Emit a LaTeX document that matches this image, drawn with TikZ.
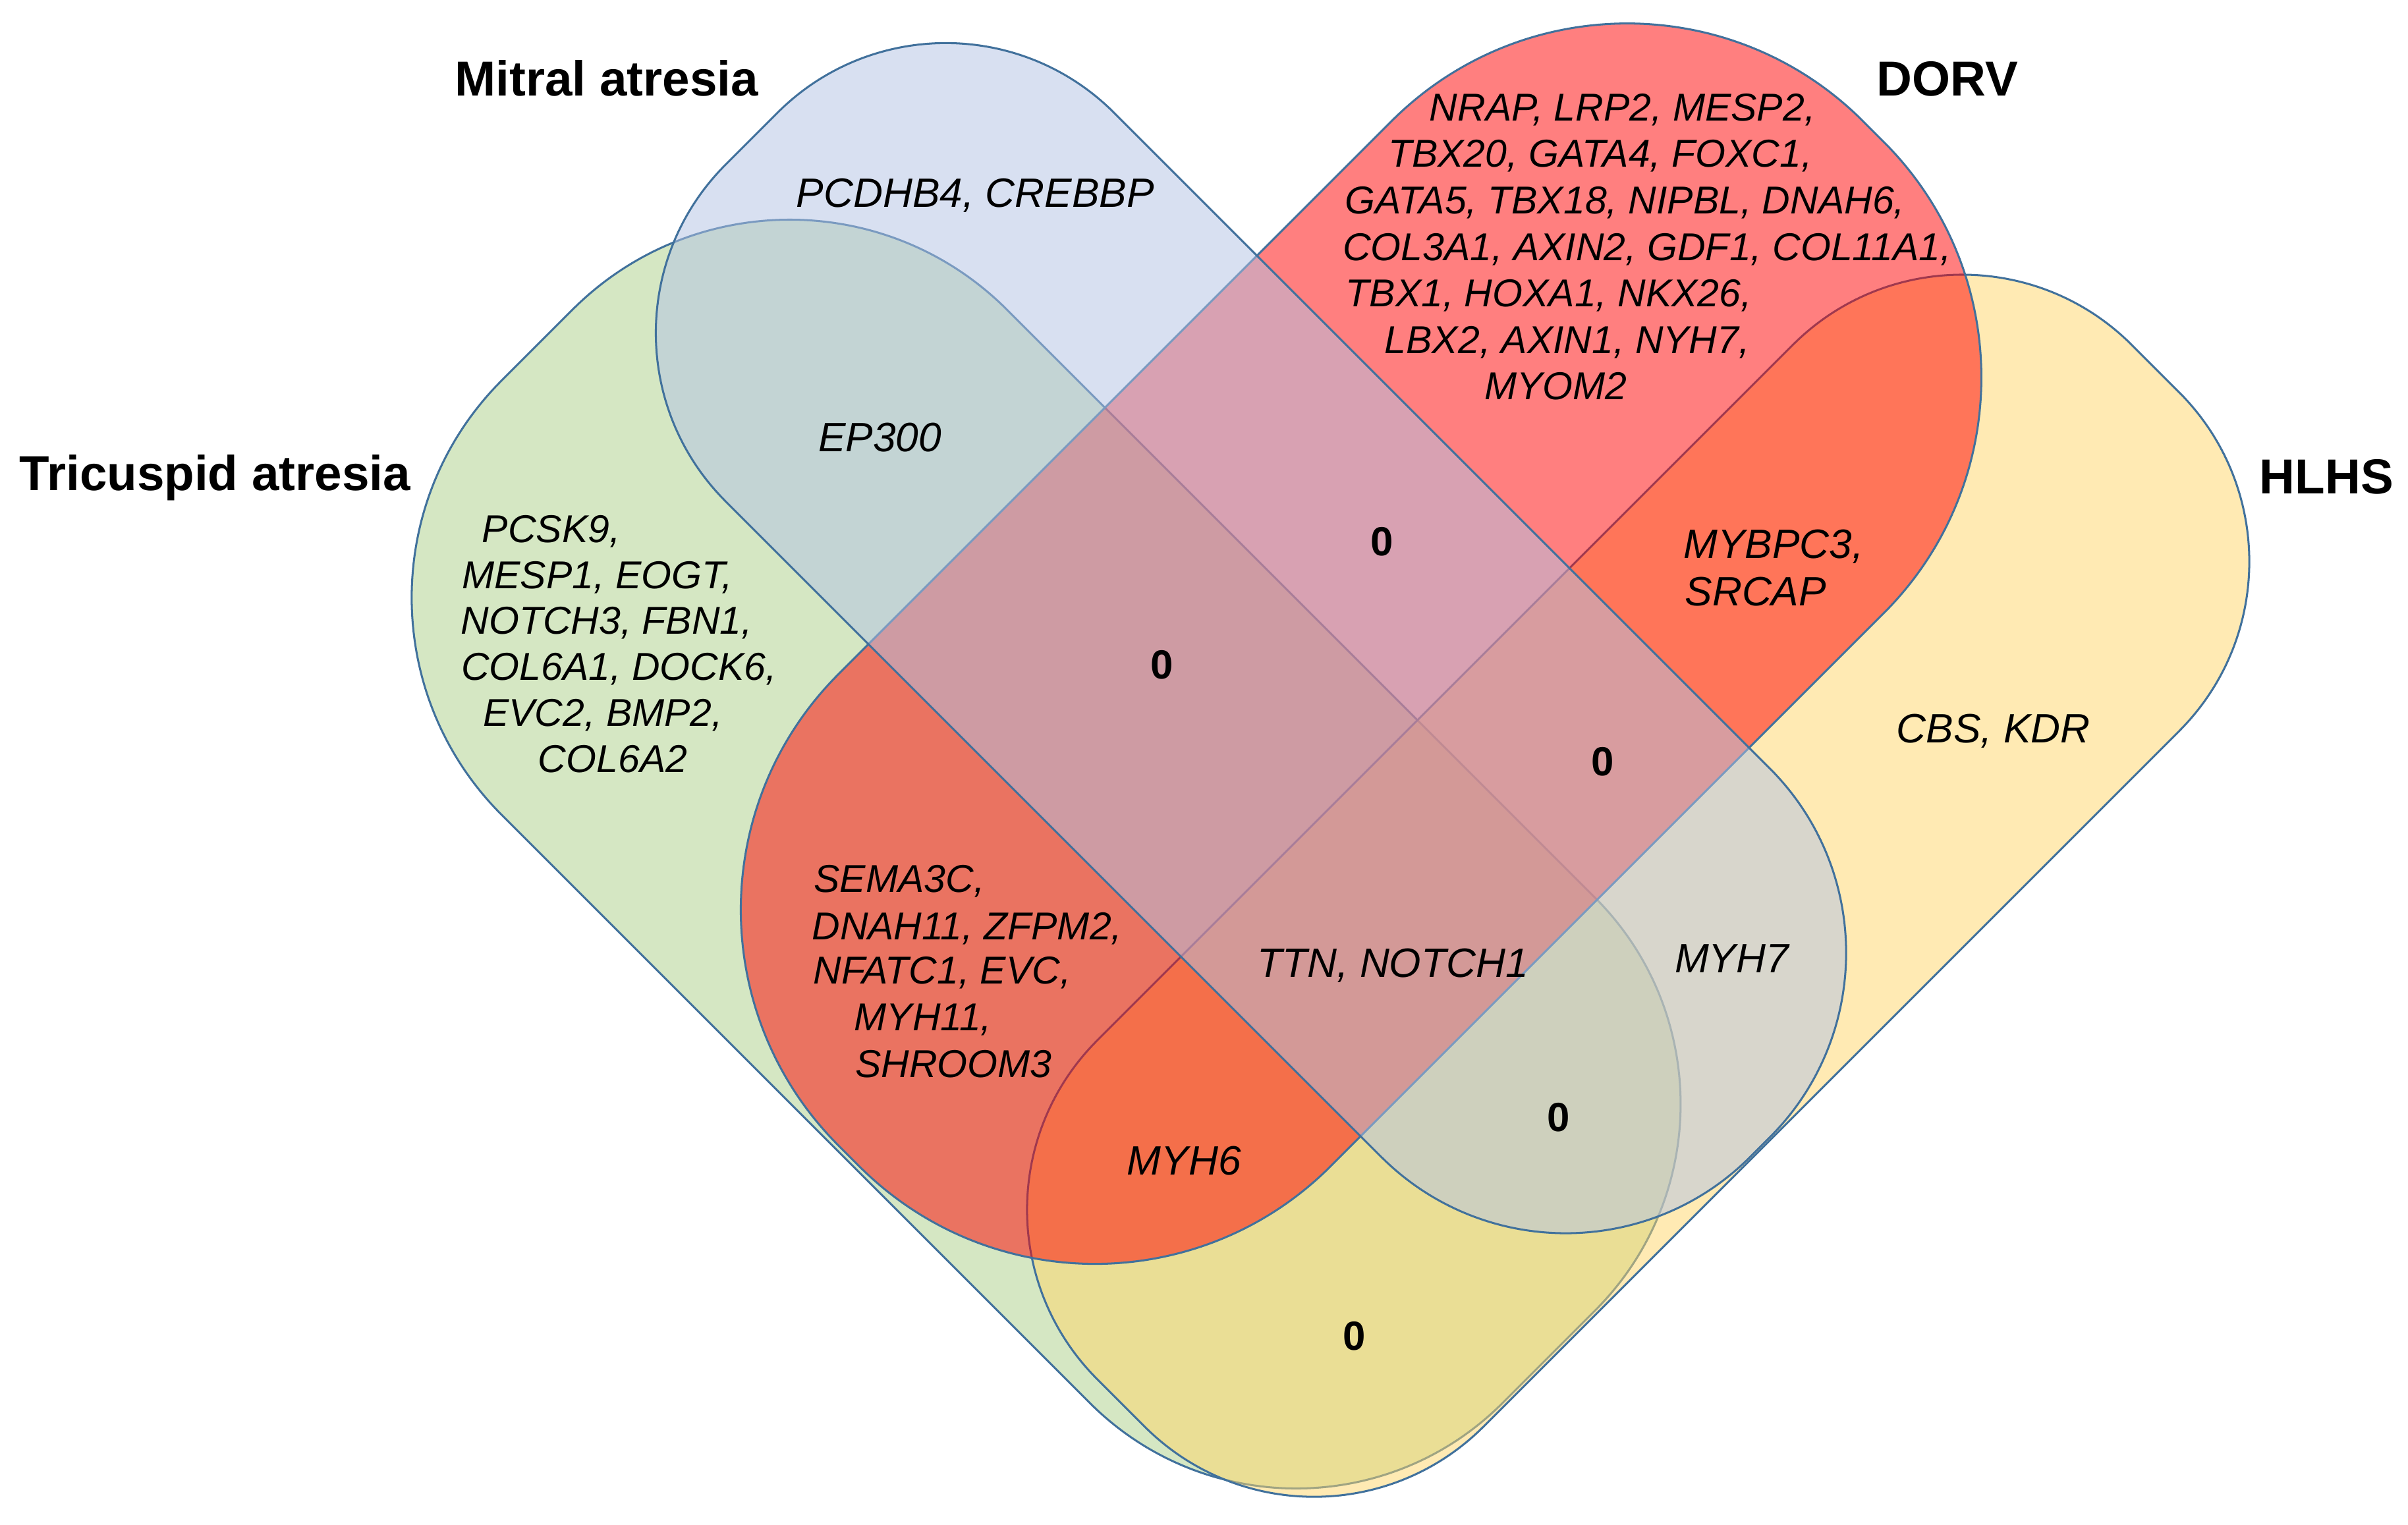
\documentclass[tikz,border=0pt]{standalone}
\usepackage{fontspec}
\setmainfont{Liberation Sans}
\definecolor{outl}{RGB}{65,113,156}
\definecolor{gbase}{RGB}{173,209,137}
\definecolor{ybase}{RGB}{255,215,105}
\definecolor{rbase}{RGB}{255,1,1}
\definecolor{bbase}{RGB}{179,195,229}
% rounded bar in a rotated frame:
% #1 style, #2 rotation, #3 s-start, #4 s-end, #5 t-min, #6 t-max, #7 radius at start, #8 radius at end
\newcommand\roundbar[8]{%
  \path[#1, rotate=#2] (#3+#7, #5) -- (#4-#8, #5)
    arc[start angle=-90, end angle=0, radius=#8] -- (#4, #6-#8)
    arc[start angle=0, end angle=90, radius=#8] -- (#3+#7, #6)
    arc[start angle=90, end angle=180, radius=#7] -- (#3, #5+#7)
    arc[start angle=180, end angle=270, radius=#7] -- cycle;}
\begin{document}
\begin{tikzpicture}[x=1pt,y=1pt,
  setshape/.style={draw=outl, line width=1.3pt, fill opacity=0.5},
  gene/.style={font=\fontsize{25.3}{30}\selectfont\itshape, anchor=base, inner sep=0pt},
  genebig/.style={font=\fontsize{26.7}{30}\selectfont\itshape, anchor=base, inner sep=0pt},
  genebigw/.style={genebig, anchor=base west},
  settitle/.style={font=\fontsize{32}{36}\selectfont\bfseries, anchor=base, inner sep=0pt},
  zero/.style={font=\fontsize{26.5}{30}\selectfont\bfseries, anchor=center, inner sep=0pt}]
\useasboundingbox (0,0) rectangle (1568,-993);
\fill[white] (0,0) rectangle (1568,-993);
% sets, painted in this order: Tricuspid (green), HLHS (yellow), DORV (red), Mitral (blue)
\roundbar{setshape, fill=gbase}{-45}{406.2}{1337.9}{-144.25}{321.03}{200}{190}
\roundbar{setshape, fill=ybase}{45}{-129.9}{822.7}{-1340.0}{-984.3}{156}{156}
\roundbar{setshape, fill=rbase}{45}{-141.42}{802.0}{-1149.7}{-696.5}{217}{217}
\roundbar{setshape, fill=bbase}{-45}{409.9}{1338.6}{103.24}{461.03}{155}{170}
% titles
\node[settitle] (tmitral) at (395,-62.5) {Mitral atresia};
\node[settitle] (tdorv) at (1268,-62.5) {DORV};
\node[settitle] (ttri) at (140,-319.5) {Tricuspid atresia};
\node[settitle] (thlhs) at (1515,-321.5) {HLHS};
% Mitral only
\node[genebig] (gmitral) at (635,-135.1) {PCDHB4, CREBBP};
% Mitral & Tricuspid
\node[genebig] (gmt) at (573,-294.1) {EP300};
% Tricuspid only
\node[gene] (gt1) at (359,-353.1) {PCSK9,};
\node[gene] (gt2) at (389,-383.1) {MESP1, EOGT,};
\node[gene] (gt3) at (395,-413.1) {NOTCH3, FBN1,};
\node[gene] (gt4) at (403,-443.1) {COL6A1, DOCK6,};
\node[gene] (gt5) at (392.6,-473.1) {EVC2, BMP2,};
\node[gene] (gt6) at (399,-503.1) {COL6A2};
% DORV only
\node[gene] (gd1) at (1056.5,-78.6) {NRAP, LRP2, MESP2,};
\node[gene] (gd2) at (1042,-108.9) {TBX20, GATA4, FOXC1,};
\node[gene] (gd3) at (1058,-139.2) {GATA5, TBX18, NIPBL, DNAH6,};
\node[gene] (gd4) at (1072.5,-169.5) {COL3A1, AXIN2, GDF1, COL11A1,};
\node[gene] (gd5) at (1008.5,-199.8) {TBX1, HOXA1, NKX26,};
\node[gene] (gd6) at (1020.5,-230.1) {LBX2, AXIN1, NYH7,};
\node[gene] (gd7) at (1013,-260.4) {MYOM2};
% DORV & HLHS
\node[genebigw] (gdh1) at (1096,-363.6) {MYBPC3,};
\node[genebigw] (gdh2) at (1097,-394.6) {SRCAP};
% HLHS only
\node[genebig] (gh) at (1298,-483.6) {CBS, KDR};
% Tricuspid & DORV
\node[gene] (gtd1) at (585.6,-581.1) {SEMA3C,};
\node[gene] (gtd2) at (629.7,-611.8) {DNAH11, ZFPM2,};
\node[gene] (gtd3) at (613.5,-640.6) {NFATC1, EVC,};
\node[gene] (gtd4) at (601,-671.1) {MYH11,};
\node[gene] (gtd5) at (621,-701.8) {SHROOM3};
% other intersections
\node[genebig] (gttn) at (907,-636.6) {TTN, NOTCH1};
\node[genebig] (gmyh6) at (771,-765.1) {MYH6};
\node[genebig] (gmyh7) at (1127.6,-633.2) {MYH7};
% zeros
\node[zero] (z1) at (900,-352.7) {0};
\node[zero] (z2) at (756.5,-433) {0};
\node[zero] (z3) at (1043.5,-496) {0};
\node[zero] (z4) at (1015,-727.7) {0};
\node[zero] (z5) at (882,-870) {0};
\end{tikzpicture}
\end{document}
